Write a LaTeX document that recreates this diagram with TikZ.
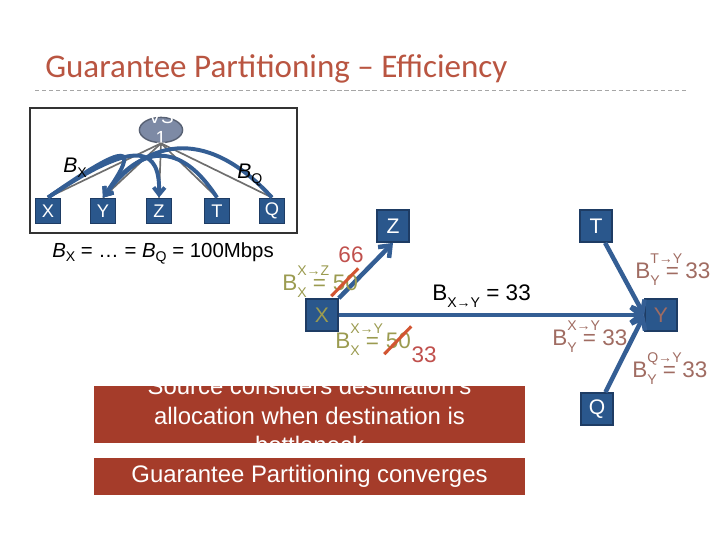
\documentclass[tikz,border=0pt]{standalone}
\usepackage{fontspec}
\setmainfont{Liberation Sans}
\newfontfamily\titlefont{Carlito}
\usepackage{tikz}
\usetikzlibrary{arrows.meta,positioning,shapes.geometric}
\definecolor{titlered}{RGB}{185,85,65}
\definecolor{peerblue}{RGB}{42,87,140}
\definecolor{peeredge}{RGB}{30,60,100}
\definecolor{flowblue}{RGB}{52,94,148}
\definecolor{vsgrey}{RGB}{125,138,165}
\definecolor{linkgrey}{RGB}{110,110,110}
\definecolor{notered}{RGB}{165,60,42}
\definecolor{olivetxt}{RGB}{155,155,80}
\definecolor{mauvetxt}{RGB}{160,108,98}
\definecolor{newred}{RGB}{192,80,77}
\definecolor{strikered}{RGB}{210,85,50}
\newcommand{\flowsize}{\fontsize{10}{10}\selectfont}
\newcommand{\bflow}[2]{B\rlap{\raisebox{10pt}{\flowsize #1}}\raisebox{-5pt}{\flowsize #2}}
\tikzset{
  peerbox/.style={draw=peeredge, fill=peerblue, line width=1.2pt, minimum size=0.8cm, inner sep=0pt, text=white, font=\fontsize{15}{15}\selectfont},
  peersmall/.style={peerbox, minimum size=0.63cm, font=\fontsize{13}{13}\selectfont},
  vsnode/.style={ellipse, draw=vsgrey!70!black, fill=vsgrey, line width=1pt, minimum width=1.08cm, minimum height=0.63cm, inner sep=0pt},
  flowarrow/.style={-{Straight Barb[length=7pt,width=11pt]}, draw=flowblue, line width=3.2pt},
  vsarrow/.style={-{Straight Barb[length=5pt,width=8pt]}, draw=flowblue, line width=2.8pt},
  vslink/.style={draw=linkgrey, line width=1.2pt},
  notebox/.style={fill=notered, minimum width=10.78cm, inner sep=0pt},
  notetext/.style={text=white, align=center, font=\fontsize{17}{21}\selectfont},
  flowlabel/.style={font=\fontsize{16}{16}\selectfont, inner sep=0pt, anchor=base west},
  strike/.style={draw=strikered, line width=2.2pt}
}
\begin{document}
\begin{tikzpicture}[x=0.025cm, y=-0.025cm]
  \useasboundingbox (0,0) rectangle (720,540);

  \node[anchor=base west, inner sep=0pt, text=titlered, font=\titlefont\fontsize{23.5}{23.5}\selectfont] (title) at (45,77) {Guarantee Partitioning – Efficiency};
  \draw[draw=black!35, dash pattern=on 3pt off 2pt] (35,90) -- (686,90);

  % virtual switch view
  \draw[draw=black!80, line width=0.8pt] (30,108) rectangle (297,233);
  \node[vsnode] (vs) at (161,130) {};
  \node[align=center, text=white, inner sep=0pt, font=\fontsize{13.5}{15}\selectfont] (vslabel) at (161,127) {VS\\1};
  \node[peersmall] (sX) at (48,211) {X};
  \node[peersmall] (sY) at (103,211) {Y};
  \node[peersmall] (sZ) at (159,211) {Z};
  \node[peersmall] (sT) at (217,211) {T};
  \node[peersmall] (sQ) at (272,211) {Q};
  \foreach \n in {sX,sY,sZ,sT,sQ}
    \draw[vslink] (vs.south) -- (\n.north);
  \draw[vsarrow] (sX.north) .. controls (130,140) and (140,145) .. (sY.north);
  \draw[vsarrow] (sX.north) .. controls (140,135) and (160,150) .. (sZ.north);
  \draw[vsarrow] (sT.north) .. controls (180,140) and (140,145) .. (sY.north);
  \draw[vsarrow] (sQ.north) .. controls (210,130) and (150,135) .. (sY.north);
  \node[flowlabel, font=\fontsize{15}{15}\selectfont] (bx) at (63,172) {\textit{B}\raisebox{-4pt}{\flowsize X}};
  \node[flowlabel, font=\fontsize{15}{15}\selectfont] (bq) at (237,178) {\textit{B}\raisebox{-4pt}{\flowsize Q}};
  \node[flowlabel, font=\fontsize{14.5}{14.5}\selectfont] (cap) at (52,257) {\textit{B}\raisebox{-3pt}{\flowsize X} = \dots{} = \textit{B}\raisebox{-3pt}{\flowsize Q} = 100Mbps};

  % flows
  \node[peerbox] (Z) at (393,226) {Z};
  \node[peerbox] (T) at (596,226) {T};
  \node[peerbox, text=olivetxt] (X) at (322,315) {X};
  \node[peerbox, text=mauvetxt] (Y) at (661,315) {Y};
  \node[peerbox] (Q) at (597,409) {Q};
  \draw[flowarrow] (X.north east) -- (Z.south);
  \draw[flowarrow] (X) -- (Y);
  \draw[flowarrow] (T) -- (Y.west);
  \draw[flowarrow] (Q) -- (Y.west);

  \node[flowlabel, text=olivetxt] (xzold) at (282,290) {\bflow{X→Z}{X} =};
  \node[flowlabel, text=olivetxt] (xzfifty) at ([xshift=4.5pt]xzold.base east) {50};
  \draw[strike] ([xshift=-1pt,yshift=-4pt]xzfifty.south west) -- ([xshift=0pt,yshift=4pt]xzfifty.north east);
  \node[font=\fontsize{16}{16}\selectfont, text=newred, inner sep=0pt] (xznew) at (351,255) {66};

  \node[flowlabel, text=olivetxt] (xyold) at (335,348) {\bflow{X→Y}{X} =};
  \node[flowlabel, text=olivetxt] (xyfifty) at ([xshift=4.5pt]xyold.base east) {50};
  \draw[strike] ([xshift=-1pt,yshift=-4pt]xyfifty.south west) -- ([xshift=0pt,yshift=4pt]xyfifty.north east);
  \node[flowlabel, text=newred] (xynew) at ([yshift=-10pt]xyfifty.base east) {33};

  \node[flowlabel] (xyrate) at (432,300) {B\raisebox{-5pt}{\flowsize X→Y} =\ 33};
  \node[flowlabel, text=mauvetxt] (tyshare) at (635,278) {\bflow{T→Y}{Y} =\ 33};
  \node[flowlabel, text=mauvetxt] (xyshare) at (552,345) {\bflow{X→Y}{Y} =\ 33};
  \node[flowlabel, text=mauvetxt] (qyshare) at (632,377) {\bflow{Q→Y}{Y} =\ 33};

  % notes
  \node[notebox, minimum height=1.43cm] (note) at (309.5,414.5) {};
  \node[notetext] (notetxt) at ([yshift=-1pt]note.center) {Source considers destination's\\allocation when destination is\\bottleneck};
  \node[notebox, minimum height=0.93cm, notetext] (done) at (309.5,476.5) {Guarantee Partitioning converges};
\end{tikzpicture}
\end{document}
